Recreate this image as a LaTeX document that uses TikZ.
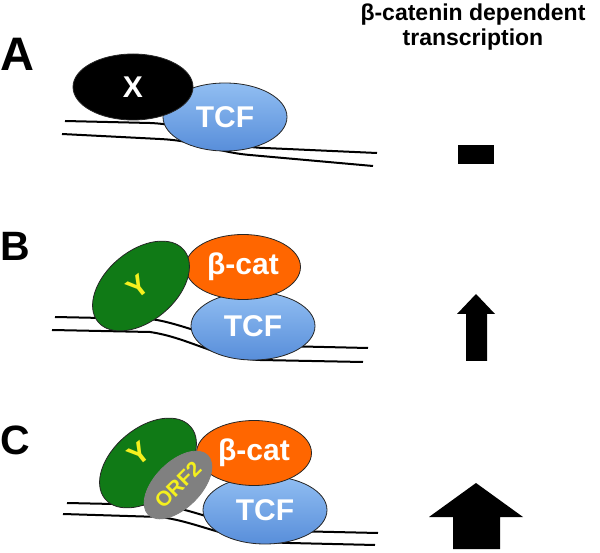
\documentclass[tikz,border=0pt]{standalone}
\usepackage{fontspec}
\setmainfont{Liberation Sans}
\usetikzlibrary{shapes.geometric}
\definecolor{ygreen}{RGB}{16,122,22}
\definecolor{catorange}{RGB}{255,102,0}
\definecolor{tcftop}{RGB}{145,190,242}
\definecolor{tcfbot}{RGB}{88,142,218}
\definecolor{orfgrey}{RGB}{128,128,128}
\definecolor{lblyellow}{RGB}{245,240,30}
\begin{document}
\begin{tikzpicture}[x=1pt,y=-1pt,
    prot/.style={ellipse,draw=black!85,line width=.8pt,inner sep=0pt,font=\bfseries\fontsize{30}{30}\selectfont},
    tcf/.style={prot,top color=tcftop,bottom color=tcfbot,text=white,minimum width=124,minimum height=68},
    bcat/.style={prot,fill=catorange,text=white,minimum width=115,minimum height=65},
    yprot/.style={prot,fill=ygreen,minimum width=112,minimum height=70,rotate=40},
    ytext/.style={inner sep=0pt,text=lblyellow,rotate=38,font=\bfseries\fontsize{29}{29}\selectfont},
    orf/.style={prot,fill=orfgrey,draw=black!50,text=lblyellow,minimum width=84,minimum height=46,rotate=45,font=\bfseries\fontsize{21}{21}\selectfont},
    dna/.style={line width=2pt},
    panel/.style={inner sep=0pt,anchor=base west,font=\bfseries\fontsize{41}{41}\selectfont}]
\useasboundingbox (0,0) rectangle (600,553);
% heading
\node[inner sep=0pt,anchor=north,align=center,font=\bfseries\fontsize{23}{25}\selectfont] (head) at (473,4) {β-catenin dependent\\transcription};
% A
\node[panel,font=\bfseries\fontsize{47}{47}\selectfont] (la) at (0,71) {A};
\draw[dna] (65,121) -- (150,123) .. controls (200,125) and (220,147) .. (265,148) -- (377,153);
\draw[dna] (62,134) -- (160,139) .. controls (200,141) and (215,152) .. (250,155) -- (373,166);
\node[tcf] (tcfa) at (225,117) {TCF};
\node[prot,fill=black,text=white,minimum width=120,minimum height=66] (x) at (133,87) {X};
\fill (458,145) rectangle (494,164);
% B
\node[panel] (lb) at (0,261) {B};
\draw[dna] (55,317) -- (150,319) .. controls (185,323) and (220,345) .. (280,346) -- (368,348);
\draw[dna] (52,330) -- (150,332) .. controls (190,338) and (215,358) .. (260,360) -- (363,362);
\node[tcf] (tcfb) at (253,326) {TCF};
\node[bcat] (bcatb) at (243,267) {β-cat};
\node[yprot] (yb) at (141,286) {};
\node[ytext] (ybl) at (138,287) {Y};
\fill (466,361) -- (466,314) -- (457,314) -- (476,294) -- (495,314) -- (487,314) -- (487,361) -- cycle;
% C
\node[panel] (lc) at (0,454) {C};
\draw[dna] (67,503) -- (160,505) .. controls (200,510) and (230,530) .. (290,531) -- (378,533);
\draw[dna] (63,514) -- (160,517) .. controls (200,522) and (230,542) .. (290,543) -- (375,545);
\node[tcf] (tcfc) at (265,510) {TCF};
\node[bcat] (bcatc) at (254,453) {β-cat};
\node[yprot] (yc) at (148,463) {};
\node[ytext] (ycl) at (139,454) {Y};
\node[orf] (orf) at (178,485) {ORF2};
\fill (453,549) -- (453,517) -- (429,517) -- (476,483) -- (523,517) -- (500,517) -- (500,549) -- cycle;
\end{tikzpicture}
\end{document}
